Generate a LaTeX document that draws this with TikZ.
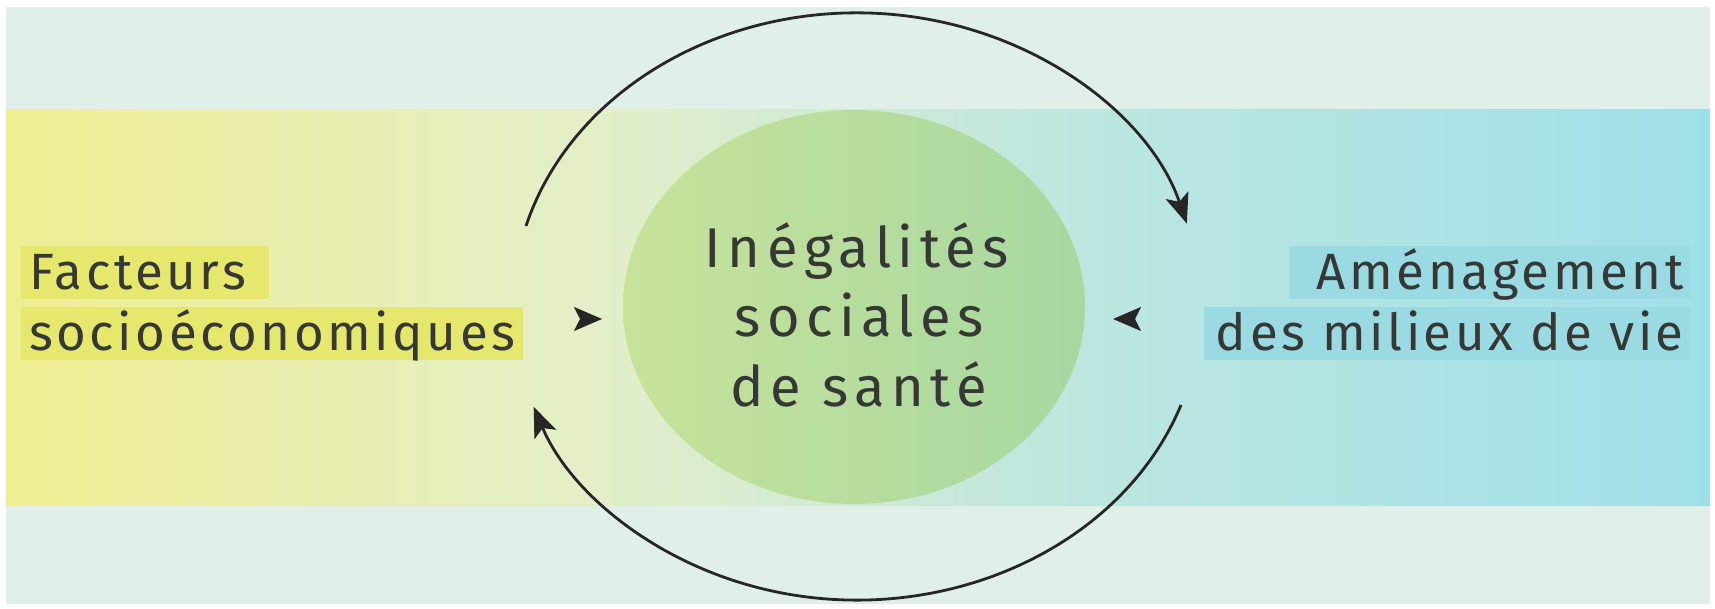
\documentclass[tikz,border=0pt]{standalone}
\usepackage{fontspec}
\setmainfont{Fira Sans}
\newfontfamily\ctrfont[LetterSpace=11.5]{Fira Sans}
\newfontfamily\lblfont[LetterSpace=7]{Fira Sans}
\usetikzlibrary{arrows.meta,shapes.geometric}
\definecolor{pagebg}{HTML}{FFFFFF}
\definecolor{mint}{HTML}{E0F0E8}
\definecolor{bandA}{HTML}{F0EE92}
\definecolor{bandB}{HTML}{E4EFC8}
\definecolor{bandC}{HTML}{BCE6E0}
\definecolor{bandD}{HTML}{9FE0E8}
\definecolor{ellL}{HTML}{C8E29A}
\definecolor{ellR}{HTML}{A6D8A0}
\definecolor{lblY}{HTML}{E6E86E}
\definecolor{lblC}{HTML}{9ADAE2}
\definecolor{ink}{HTML}{363836}
\pgfdeclarehorizontalshading{bandshade}{100bp}{color(0bp)=(bandA); color(25bp)=(bandA); color(42bp)=(bandB); color(57bp)=(bandC); color(75bp)=(bandD); color(100bp)=(bandD)}
\tikzset{
  ctr/.style={font=\ctrfont\fontsize{56}{68}\selectfont, text=ink, inner sep=0pt, anchor=base},
  lbl/.style={font=\lblfont\fontsize{51}{62}\selectfont, text=ink, inner ysep=0pt, text height=44pt, text depth=9pt},
  lblleft/.style={lbl, fill=lblY, inner xsep=8pt, anchor=base west},
  lblright/.style={lbl, fill=lblC, inner xsep=6pt, anchor=base east},
  cycarrow/.style={line width=2.8pt, draw=black!85, -{Stealth[length=30pt,width=24pt,inset=7pt,line width=1pt]}},
  headonly/.style={line width=0.01pt, draw=black!85, -{Stealth[length=28pt,width=24pt,inset=6pt,line width=1.5pt]}}
}
\begin{document}
\begin{tikzpicture}[x=1pt,y=1pt]
\useasboundingbox (0,0) rectangle (1715,608);
\fill[pagebg] (0,0) rectangle (1715,608);
\fill[mint] (6,4) rectangle (1710,601);
\shade[shading=bandshade] (6,103) rectangle (1710,498);
\node[ellipse, minimum width=462pt, minimum height=394pt, inner sep=0pt, left color=ellL, right color=ellR] (ish) at (854,301) {};
\node[ctr] (t1) at (857,340) {Inégalités};
\node[ctr] (t2) at (859,271) {sociales};
\node[ctr] (t3) at (859,201) {de santé};
\node[lblleft] (f1) at (21,318) {Facteurs\kern15pt};
\node[lblleft] (f2) at (21,257) {socioéconomiques};
\node[lblright] (a1) at (1690,318) {\kern22pt Aménagement};
\node[lblright] (a2) at (1690,257) {\kern6pt des milieux de vie};
\coordinate (la1) at (580,289);
\coordinate (la2) at (602,289);
\coordinate (ra1) at (1135,289);
\coordinate (ra2) at (1113,289);
\draw[headonly] (la1) -- (la2);
\draw[headonly] (ra1) -- (ra2);
\coordinate (us) at (526,382);
\coordinate (ls) at (1181,203);
\draw[cycarrow] (us) arc[start angle=164.1, end angle=16.4, x radius=344, y radius=293.5];
\draw[cycarrow] (ls) arc[start angle=-19.6, end angle=-160, x radius=344, y radius=293.5];
\end{tikzpicture}
\end{document}
